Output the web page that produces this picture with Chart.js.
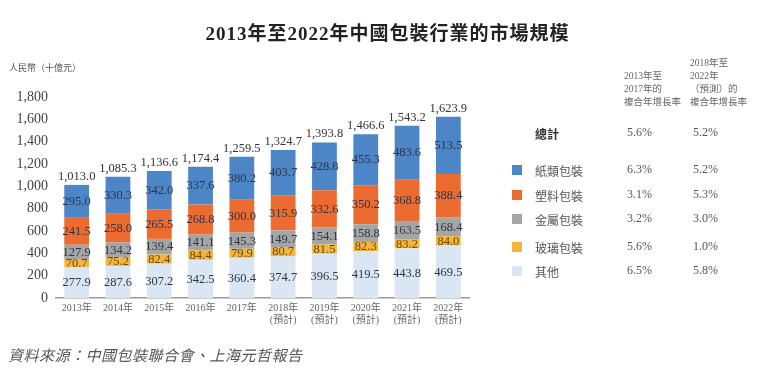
<!DOCTYPE html>
<html>
<head>
<meta charset="utf-8">
<script src="https://cdn.jsdelivr.net/npm/chart.js@4/dist/chart.umd.min.js"></script>
<style>
  html,body{margin:0;padding:0;background:#fff;}
  #wrap{position:relative;width:775px;height:376px;overflow:hidden;font-family:"Liberation Serif","Noto Sans CJK TC",serif;}
  #c{position:absolute;left:0;top:0;}
  .t{position:absolute;white-space:nowrap;}
  #title{left:0;width:775px;top:18px;text-align:center;font-size:19px;letter-spacing:1px;font-weight:bold;color:#222;}
  #unit{left:9px;top:61px;font-size:9px;color:#555;}
  #src{left:8px;top:344px;font-size:15px;font-style:italic;color:#555;letter-spacing:0.5px;}
  .hdr{font-size:9.5px;color:#666;line-height:13px;}
  .row{font-size:12px;color:#555;}
  .sw{position:absolute;width:10px;height:10px;}
</style>
</head>
<body>
<div id="wrap">
  <canvas id="c" width="775" height="376"></canvas>
  <div class="t" id="title">2013年至2022年中國包裝行業的市場規模</div>
  <div class="t" id="unit">人民幣（十億元）</div>
  <div id="legend"></div>
  <div class="t" id="src">資料來源：中國包裝聯合會、上海元哲報告</div>
</div>
<script>
const categories = [["2013年"],["2014年"],["2015年"],["2016年"],["2017年"],["2018年","(預計)"],["2019年","(預計)"],["2020年","(預計)"],["2021年","(預計)"],["2022年","(預計)"]];
const seriesNames = ["其他","玻璃包裝","金屬包裝","塑料包裝","紙類包裝"];
const others  = [277.9,287.6,307.2,342.5,360.4,374.7,396.5,419.5,443.8,469.5];
const glass   = [70.7,75.2,82.4,84.4,79.9,80.7,81.5,82.3,83.2,84.0];
const metal   = [127.9,134.2,139.4,141.1,145.3,149.7,154.1,158.8,163.5,168.4];
const plastic = [241.5,258.0,265.5,268.8,300.0,315.9,332.6,350.2,368.8,388.4];
const paper   = [295.0,330.3,342.0,337.6,380.2,403.7,428.8,455.3,483.6,513.5];
const totals  = [1013.0,1085.3,1136.6,1174.4,1259.5,1324.7,1393.8,1466.6,1543.2,1623.9];
const yTicks  = [0,200,400,600,800,1000,1200,1400,1600,1800];
const cagrHeaders = [["2013年至","2017年的","複合年增長率"],["2018年至","2022年","（預測）的","複合年增長率"]];
const cagrTotal = ["5.6%","5.2%"];
const legendOrder = ["紙類包裝","塑料包裝","金屬包裝","玻璃包裝","其他"];
const cagr1317 = ["6.3%","3.1%","3.2%","5.6%","6.5%"];
const cagr1822 = ["5.2%","5.3%","3.0%","1.0%","5.8%"];

const colors = {"其他":"#dae6f3","玻璃包裝":"#f3b53c","金屬包裝":"#a5a5a5","塑料包裝":"#ec6b30","紙類包裝":"#4c86c7"};
const seriesData = [others,glass,metal,plastic,paper];

const fmt = v => v.toLocaleString('en-US',{minimumFractionDigits:1,maximumFractionDigits:1});

const labelPlugin = {
  id:'lbls',
  afterDatasetsDraw(chart){
    const ctx = chart.ctx;
    ctx.save();
    ctx.textAlign='center';
    ctx.textBaseline='middle';
    chart.data.datasets.forEach((ds,di)=>{
      const meta = chart.getDatasetMeta(di);
      meta.data.forEach((bar,i)=>{
        const v = ds.data[i];
        const cy = (bar.y + bar.base)/2;
        ctx.font = '12.5px "Liberation Serif", serif';
        ctx.fillStyle = di===1 ? '#6b4a10' : '#2e3547';
        ctx.fillText(v.toFixed(1), bar.x, cy+0.5);
      });
    });
    const top = chart.getDatasetMeta(chart.data.datasets.length-1);
    top.data.forEach((bar,i)=>{
      ctx.font = '12.5px "Liberation Serif", serif';
      ctx.fillStyle = '#333';
      ctx.textBaseline='bottom';
      ctx.fillText(fmt(totals[i]), bar.x, bar.y-2);
    });
    ctx.restore();
  }
};

new Chart(document.getElementById('c'),{
  type:'bar',
  data:{
    labels:categories,
    datasets:seriesNames.map((n,k)=>({label:n,data:seriesData[k],backgroundColor:colors[n],borderWidth:0,barPercentage:0.6,categoryPercentage:1}))
  },
  options:{
    responsive:false,
    animation:false,
    devicePixelRatio:1,
    layout:{padding:{left:0,right:306,top:97,bottom:0}},
    plugins:{legend:{display:false},title:{display:false},tooltip:{enabled:false}},
    scales:{
      x:{
        stacked:true,
        grid:{display:false,drawTicks:false},
        border:{display:true,color:'#9a9a9a',width:1.5},
        ticks:{padding:4,color:'#666',font:{family:'"Liberation Serif","Noto Sans CJK TC",serif',size:10},maxRotation:0,autoSkip:false},
        afterFit(s){s.height=78;}
      },
      y:{
        stacked:true,
        min:0,max:1800,
        afterBuildTicks(s){s.ticks=yTicks.map(v=>({value:v}));},
        grid:{display:false,drawTicks:false},
        border:{display:false},
        ticks:{padding:8,color:'#444',font:{family:'"Liberation Serif",serif',size:14},callback:v=>v.toLocaleString('en-US')},
        afterFit(s){s.width=56;}
      }
    }
  },
  plugins:[labelPlugin]
});

// legend / CAGR table
const L = document.getElementById('legend');
function addText(txt,x,y,cls,extra){
  const d=document.createElement('div');d.className='t '+cls;d.style.left=x+'px';d.style.top=y+'px';
  d.innerHTML=txt; if(extra) Object.assign(d.style,extra); L.appendChild(d);
}
addText(cagrHeaders[0].join('<br>'),624,70,'hdr');
addText(cagrHeaders[1].join('<br>'),690,57,'hdr');
addText('總計',535,125,'row',{fontWeight:'bold',color:'#333'});
addText(cagrTotal[0],627,125,'row');
addText(cagrTotal[1],693,125,'row');
const rowY=[162,187,211,239,263];
legendOrder.forEach((n,i)=>{
  const s=document.createElement('div');s.className='sw';s.style.left='512px';s.style.top=(rowY[i]+3)+'px';s.style.background=colors[n];L.appendChild(s);
  addText(n,535,rowY[i],'row');
  addText(cagr1317[i],627,rowY[i],'row');
  addText(cagr1822[i],693,rowY[i],'row');
});
</script>
</body>
</html>
